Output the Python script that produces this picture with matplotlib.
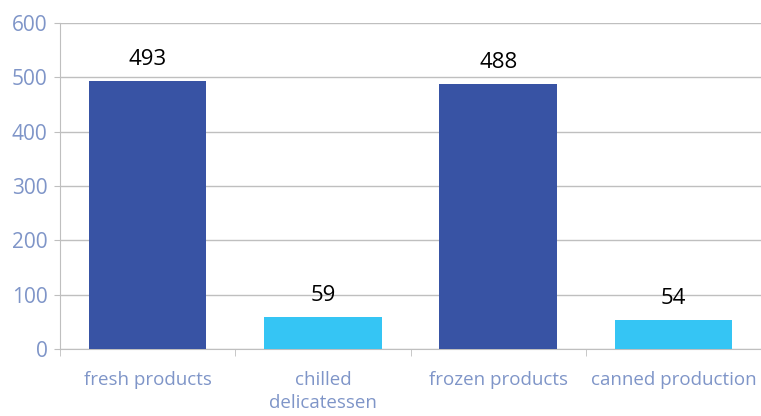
import matplotlib
matplotlib.use("Agg")
import matplotlib.pyplot as plt
import numpy as np

categories = ["fresh products", "chilled\ndelicatessen", "frozen products", "canned production"]
values = [493, 59, 488, 54]
colors = ["#3853a4", "#35c5f4", "#3853a4", "#35c5f4"]

plt.rcParams['font.family'] = ['Open Sans', 'DejaVu Sans']

fig = plt.figure(figsize=(7.61, 4.16), dpi=100)
ax = fig.add_axes([60/761, 1-349/416, 1-60/761, (349-23)/416])

x = np.arange(len(categories))
ax.bar(x, values, width=0.67, color=colors, zorder=3)
for xi, v in zip(x, values):
    ax.annotate(str(v), (xi, v), xytext=(0, 8), textcoords="offset points",
                ha="center", va="bottom", fontsize=16, color="black")

ax.set_xlim(-0.5, len(categories) - 0.5)
ax.set_ylim(0, 600)
ax.set_yticks(range(0, 601, 100))
ax.yaxis.grid(True, color="#bfbfbf", linewidth=1, zorder=0)
ax.set_xticks(x)
ax.set_xticklabels(categories, linespacing=1.35)
ax.set_xticks(np.arange(-0.5, len(categories), 1), minor=True)
ax.tick_params(axis="x", which="major", length=0, pad=16, labelsize=13.5, labelcolor="#7f95c8")
ax.tick_params(axis="x", which="minor", length=5, color="#bfbfbf", direction="out")
ax.tick_params(axis="y", length=4, color="#bfbfbf", labelsize=15, labelcolor="#7f95c8", pad=5)

for s in ["top", "right"]:
    ax.spines[s].set_visible(False)
ax.spines["left"].set_color("#bfbfbf")
ax.spines["bottom"].set_color("#bfbfbf")

fig.savefig("out.png", dpi=100)
